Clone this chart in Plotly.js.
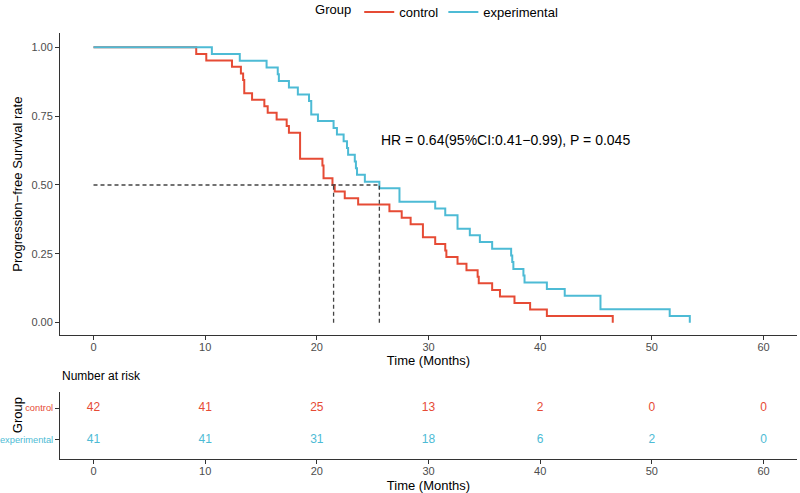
<!DOCTYPE html>
<html>
<head>
<meta charset="utf-8">
<script src="https://cdn.plot.ly/plotly-3.0.1.min.js"></script>
<style>html,body{margin:0;padding:0;background:#fff;}#chart{width:800px;height:493px;}</style>
</head>
<body>
<div id="chart"></div>
<script>
// Kaplan-Meier step data
const controlTime = [0, 9.2, 10.1, 12.4, 13.2, 13.4, 13.5, 14.2, 15.3, 15.6, 16.4, 17.3, 17.5, 18.5, 20.5, 20.6, 21.4, 21.6, 22.5, 23.7, 26.5, 27.6, 28.4, 29.5, 30.6, 31.5, 31.6, 32.6, 33.4, 34.4, 34.5, 35.7, 36.4, 37.7, 39.1, 40.6, 46.5];
const controlSurv = [1, 0.976, 0.952, 0.929, 0.905, 0.881, 0.833, 0.810, 0.786, 0.762, 0.738, 0.714, 0.690, 0.595, 0.571, 0.524, 0.500, 0.476, 0.452, 0.429, 0.405, 0.381, 0.357, 0.310, 0.286, 0.262, 0.238, 0.214, 0.190, 0.167, 0.143, 0.119, 0.095, 0.071, 0.048, 0.024, 0.0];
const expTime = [0, 10.6, 13.1, 15.5, 16.5, 16.6, 17.5, 18.3, 19.3, 19.5, 20.1, 21.5, 21.8, 22.4, 22.7, 22.8, 23.4, 23.5, 23.6, 24.3, 25.6, 27.4, 30.6, 31.5, 32.6, 33.7, 34.6, 35.7, 37.4, 37.5, 37.6, 38.5, 38.6, 40.6, 42.2, 45.4, 51.6, 53.4];
const expSurv = [1, 0.976, 0.951, 0.927, 0.902, 0.878, 0.854, 0.829, 0.805, 0.756, 0.732, 0.707, 0.683, 0.659, 0.634, 0.610, 0.585, 0.561, 0.537, 0.512, 0.488, 0.439, 0.415, 0.390, 0.341, 0.317, 0.293, 0.268, 0.244, 0.220, 0.195, 0.171, 0.146, 0.122, 0.098, 0.049, 0.024, 0.0];

// medians
const medianSurv = 0.5;
const medianTimes = [21.5, 25.6];

// Number at risk table
const riskTimes = [0, 10, 20, 30, 40, 50, 60];
const controlRisk = [42, 41, 25, 13, 2, 0, 0];
const expRisk = [41, 41, 31, 18, 6, 2, 0];

const groups = ['control', 'experimental'];
const xTicks = [0, 10, 20, 30, 40, 50, 60];
const yTicks = [0, 0.25, 0.5, 0.75, 1];
const yTickText = ['0.00', '0.25', '0.50', '0.75', '1.00'];
const hrText = 'HR = 0.64(95%CI:0.41\u22120.99), P = 0.045';

const RED = '#E64B35', BLUE = '#4DBBD5';
const FONT = 'Liberation Sans, Arial, sans-serif';
const AX = '#333333', TICKC = '#4D4D4D';

const dashStyle = {color: '#444444', width: 1.3, dash: '4px,3px'};

const traces = [
  {x: controlTime, y: controlSurv, name: groups[0], type: 'scatter', mode: 'lines',
   line: {shape: 'hv', color: RED, width: 2}, xaxis: 'x', yaxis: 'y'},
  {x: expTime, y: expSurv, name: groups[1], type: 'scatter', mode: 'lines',
   line: {shape: 'hv', color: BLUE, width: 2}, xaxis: 'x', yaxis: 'y'},
  // median dashed lines
  {x: [0, Math.max(...medianTimes)], y: [medianSurv, medianSurv], mode: 'lines', showlegend: false,
   line: dashStyle, hoverinfo: 'skip', xaxis: 'x', yaxis: 'y'},
  {x: [medianTimes[0], medianTimes[0]], y: [0, medianSurv], mode: 'lines', showlegend: false,
   line: dashStyle, hoverinfo: 'skip', xaxis: 'x', yaxis: 'y'},
  {x: [medianTimes[1], medianTimes[1]], y: [0, medianSurv], mode: 'lines', showlegend: false,
   line: dashStyle, hoverinfo: 'skip', xaxis: 'x', yaxis: 'y'},
  // risk table
  {x: riskTimes, y: riskTimes.map(() => 1), text: controlRisk.map(String), mode: 'text', showlegend: false,
   textfont: {color: RED, size: 12, family: FONT}, xaxis: 'x2', yaxis: 'y2', hoverinfo: 'skip'},
  {x: riskTimes, y: riskTimes.map(() => 0), text: expRisk.map(String), mode: 'text', showlegend: false,
   textfont: {color: BLUE, size: 12, family: FONT}, xaxis: 'x2', yaxis: 'y2', hoverinfo: 'skip'}
];

const axisCommon = {
  showline: true, linecolor: AX, linewidth: 1, ticks: 'outside', ticklen: 4, tickwidth: 1,
  tickcolor: AX, showgrid: false, zeroline: false, tickfont: {size: 11, color: TICKC, family: FONT},
  automargin: false
};

const layout = {
  width: 800, height: 493,
  margin: {l: 60, r: 3, t: 33, b: 34, autoexpand: false},
  paper_bgcolor: '#ffffff', plot_bgcolor: '#ffffff',
  font: {family: FONT, color: '#000'},
  showlegend: true,
  legend: {orientation: 'h', x: 0.513, xanchor: 'center', y: 1.049, yanchor: 'middle',
           title: {text: 'Group', font: {size: 13, family: FONT}, side: 'left'},
           font: {size: 13, family: FONT}, itemwidth: 30, tracegroupgap: 0},
  xaxis: Object.assign({}, axisCommon, {domain: [0, 1], range: [-3, 63], tickvals: xTicks, anchor: 'y',
    ticklabelstandoff: -2,
    title: {text: 'Time (Months)', font: {size: 13, family: FONT}, standoff: 0}}),
  yaxis: Object.assign({}, axisCommon, {domain: [0.291, 1], range: [-0.045, 1.052], tickvals: yTicks,
    ticktext: yTickText, anchor: 'x'}),
  xaxis2: Object.assign({}, axisCommon, {domain: [0, 1], range: [-3, 63], tickvals: xTicks, anchor: 'y2',
    ticklabelstandoff: -2,
    title: {text: 'Time (Months)', font: {size: 13, family: FONT}, standoff: 4}}),
  yaxis2: Object.assign({}, axisCommon, {domain: [0, 0.157], range: [-0.6, 1.5], tickvals: [1, 0],
    ticktext: ['<span style="color:' + RED + '">' + groups[0] + '</span>',
               '<span style="color:' + BLUE + '">' + groups[1] + '</span>'],
    tickfont: {size: 9.3, family: FONT}, anchor: 'x2'}),
  annotations: [
    {text: hrText, xref: 'x', yref: 'y', x: 25.6, y: 0.663, xanchor: 'left', yanchor: 'middle',
     showarrow: false, font: {size: 14, family: FONT, color: '#000'}},
    {text: 'Progression\u2212free Survival rate', xref: 'paper', yref: 'paper', x: -0.057, y: 0.646,
     textangle: -90, showarrow: false, xanchor: 'center', yanchor: 'middle', font: {size: 13, family: FONT}},
    {text: 'Number at risk', xref: 'paper', yref: 'paper', x: 0, y: 0.195, xanchor: 'left', yanchor: 'middle',
     showarrow: false, font: {size: 12, family: FONT}},
    {text: 'Group', xref: 'paper', yref: 'paper', x: -0.0583, y: 0.103, textangle: -90,
     xanchor: 'center', yanchor: 'middle', showarrow: false, font: {size: 13, family: FONT}}
  ]
};

Plotly.newPlot('chart', traces, layout, {displayModeBar: false, staticPlot: true});
</script>
</body>
</html>
